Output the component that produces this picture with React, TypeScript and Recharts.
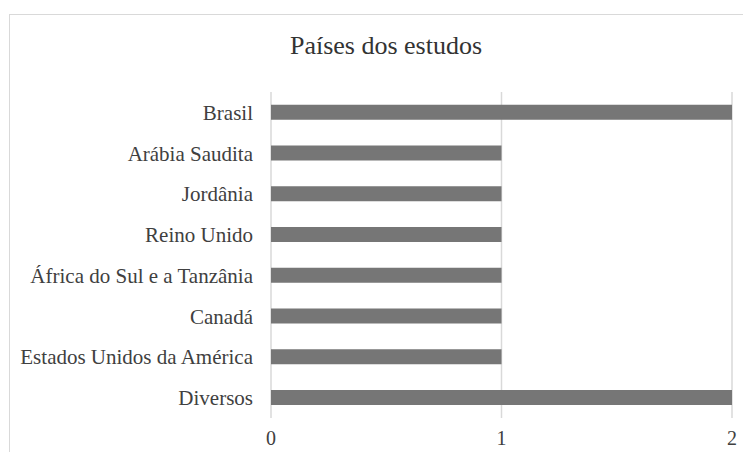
import { BarChart, Bar, XAxis, YAxis, CartesianGrid } from 'recharts';

const countries = [
  'Brasil',
  'Arábia Saudita',
  'Jordânia',
  'Reino Unido',
  'África do Sul e a Tanzânia',
  'Canadá',
  'Estados Unidos da América',
  'Diversos',
];
const studies = [2, 1, 1, 1, 1, 1, 1, 2];
const xTicks = [0, 1, 2];

const data = countries.map((name, i) => ({ name, value: studies[i] }));

const FONT = '"Liberation Serif", "Times New Roman", serif';
const TEXT = '#404040';

export default function App() {
  return (
    <div style={{ margin: -8, width: 751, height: 460, position: 'relative', overflow: 'hidden', background: '#fff', fontFamily: FONT }}>
      <div style={{ position: 'absolute', left: 9, top: 14, width: 780, height: 480, border: '1px solid #d9d9d9', boxSizing: 'border-box' }} />
      <div style={{ position: 'absolute', left: 0, top: 30, width: 772, textAlign: 'center', fontSize: 26, lineHeight: '32px', color: '#333' }}>
        Países dos estudos
      </div>
      <div style={{ position: 'absolute', left: 0, top: 0 }}>
        <BarChart
          width={751}
          height={460}
          data={data}
          layout="vertical"
          margin={{ top: 92, right: 19, bottom: 0, left: 0 }}
          barCategoryGap="31.5%"
        >
          <CartesianGrid horizontal={false} stroke="#d9d9d9" strokeWidth={1.5} />
          <XAxis
            type="number"
            domain={[0, 2]}
            ticks={xTicks}
            axisLine={false}
            tickLine={false}
            tickMargin={7}
            tick={{ fill: TEXT, fontSize: 20, fontFamily: FONT }}
            height={42}
          />
          <YAxis
            type="category"
            dataKey="name"
            width={271}
            axisLine={false}
            tickLine={false}
            tickMargin={12}
            tick={{ fill: TEXT, fontSize: 21, fontFamily: FONT }}
            interval={0}
          />
          <Bar dataKey="value" fill="#767676" isAnimationActive={false} />
        </BarChart>
      </div>
    </div>
  );
}
